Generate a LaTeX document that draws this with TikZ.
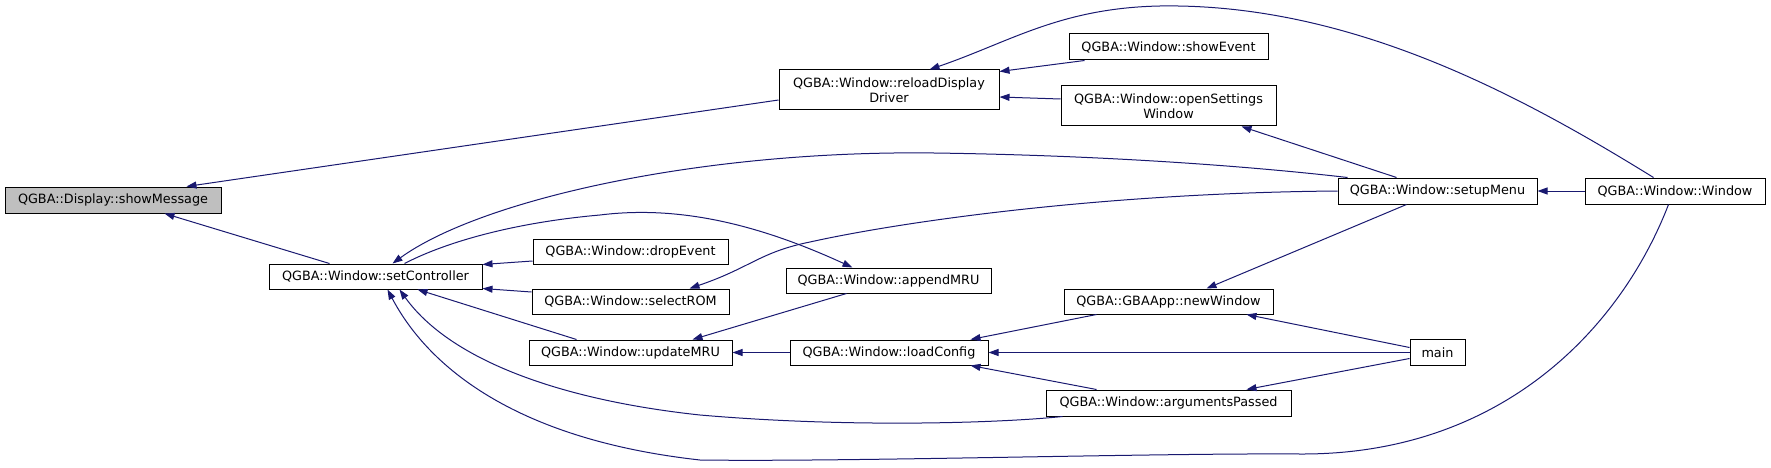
\documentclass[tikz,border=0pt]{standalone}
\usepackage{fontspec}
\setmainfont{DejaVu Sans}
\usetikzlibrary{arrows.meta,calc}
\definecolor{midnight}{HTML}{191970}
\definecolor{grayfill}{HTML}{BFBFBF}
\begin{document}
\begin{tikzpicture}[x=1pt,y=-1pt,
  fn/.style={draw=black, line width=1pt, fill=white, inner sep=0pt, align=center,
    font=\fontsize{12.8}{15}\selectfont},
  calledge/.style={draw=midnight, line width=1pt, {Triangle[length=10pt,width=7pt]}-}]
\useasboundingbox (0,0) rectangle (1771,468);

% nodes
\node[fn, fill=grayfill, minimum width=216pt, minimum height=26pt] (showMessage) at (113,200) {QGBA::Display::showMessage};
\node[fn, minimum width=213pt, minimum height=25pt] (setController) at (375.5,276.5) {QGBA::Window::setController};
\node[fn, minimum width=220pt, minimum height=40pt] (reload) at (889,90) {QGBA::Window::reloadDisplay\\Driver};
\node[fn, minimum width=199pt, minimum height=26pt] (showEvent) at (1168.5,47) {QGBA::Window::showEvent};
\node[fn, minimum width=215pt, minimum height=40pt] (openSettings) at (1168.5,106) {QGBA::Window::openSettings\\Window};
\node[fn, minimum width=199pt, minimum height=26pt] (setupMenu) at (1437.5,191) {QGBA::Window::setupMenu};
\node[fn, minimum width=180pt, minimum height=26pt] (Window) at (1675,191) {QGBA::Window::Window};
\node[fn, minimum width=195pt, minimum height=25pt] (dropEvent) at (630.5,251.5) {QGBA::Window::dropEvent};
\node[fn, minimum width=197pt, minimum height=25pt] (selectROM) at (630.5,301.5) {QGBA::Window::selectROM};
\node[fn, minimum width=203pt, minimum height=25pt] (updateMRU) at (630.5,352.5) {QGBA::Window::updateMRU};
\node[fn, minimum width=205pt, minimum height=25pt] (appendMRU) at (888.5,280.5) {QGBA::Window::appendMRU};
\node[fn, minimum width=198pt, minimum height=25pt] (loadConfig) at (889,352.5) {QGBA::Window::loadConfig};
\node[fn, minimum width=209pt, minimum height=25pt] (newWindow) at (1168.5,301.5) {QGBA::GBAApp::newWindow};
\node[fn, minimum width=245pt, minimum height=26pt] (argumentsPassed) at (1168.5,403) {QGBA::Window::argumentsPassed};
\node[fn, minimum width=55pt, minimum height=26pt] (main) at (1437.5,352.5) {main};

% edges (arrow at callee)
\draw[calledge] ($(showMessage.north west)+(182,0)$) -- ($(reload.west)+(0,10)$);
\draw[calledge] ($(showMessage.south west)+(160,0)$) -- ($(setController.north west)+(61,0)$);
\draw[calledge] ($(reload.north east)+(0,2)$) -- ($(showEvent.south west)+(16,0)$);
\draw[calledge] ($(reload.east)+(0,7)$) -- ($(openSettings.west)+(0,-7)$);
\draw[calledge] ($(reload.north west)+(151,0)$) .. controls (1010,42) and (1060,8) .. (1160,6)
   .. controls (1350,3) and (1520,95) .. ($(Window.north west)+(69,0)$);
\draw[calledge] ($(openSettings.south east)+(-35,0)$) -- ($(setupMenu.north west)+(59,0)$);
\draw[calledge] ($(setController.north west)+(124,0)$) .. controls (480,200) and (700,150) .. (934,153)
   .. controls (1150,156) and (1300,172) .. ($(setupMenu.north west)+(10,0)$);
\draw[calledge] ($(setController.north east)+(0,1)$) -- ($(dropEvent.west)+(0,9.5)$);
\draw[calledge] ($(setController.south east)+(0,-1)$) -- ($(selectROM.west)+(0,-9.5)$);
\draw[calledge] ($(setController.south west)+(149,0)$) -- ($(updateMRU.north west)+(48,0)$);
\draw[calledge] ($(setController.south west)+(131,0)$) .. controls (450,360) and (560,400) .. (700,415)
   .. controls (850,428) and (1000,423) .. ($(argumentsPassed.south west)+(17,0)$);
\draw[calledge] ($(setController.south west)+(119,0)$) .. controls (430,370) and (520,440) .. (700,460)
   .. controls (850,462) and (1150,453) .. (1300,454)
   .. controls (1500,455) and (1620,330) .. ($(Window.south west)+(84,0)$);
\draw[calledge] ($(selectROM.north west)+(158,0)$) .. controls (750,268) and (760,252) .. (810,242)
   .. controls (900,222) and (1100,193) .. (setupMenu.west);
\draw[calledge] ($(appendMRU.north west)+(67,0)$) .. controls (760,225) and (680,205) .. (600,215)
   .. controls (520,222) and (450,240) .. ($(setController.north west)+(136,0)$);
\draw[calledge] ($(updateMRU.north west)+(164,0)$) -- ($(appendMRU.south west)+(61,0)$);
\draw[calledge] (updateMRU.east) -- (loadConfig.west);
\draw[calledge] ($(loadConfig.north east)+(-18,0)$) -- ($(newWindow.south west)+(33,0)$);
\draw[calledge] (loadConfig.east) -- (main.west);
\draw[calledge] ($(loadConfig.south east)+(-18,0)$) -- ($(argumentsPassed.north west)+(51,0)$);
\draw[calledge] ($(newWindow.north west)+(143,0)$) -- ($(setupMenu.south west)+(69,0)$);
\draw[calledge] ($(newWindow.south west)+(183,0)$) -- ($(main.west)+(0,-5)$);
\draw[calledge] ($(argumentsPassed.north west)+(201,0)$) -- ($(main.west)+(0,6)$);
\draw[calledge] (setupMenu.east) -- (Window.west);
\end{tikzpicture}
\end{document}
